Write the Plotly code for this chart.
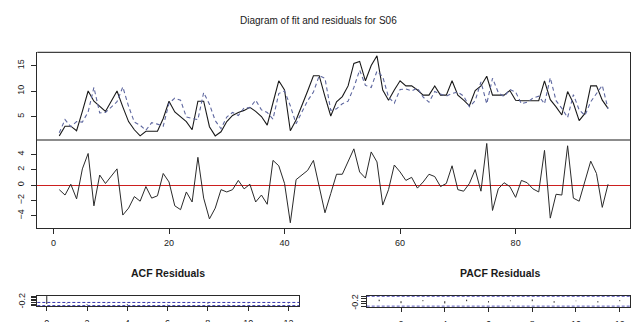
import plotly.graph_objects as go

# ---------------- data ----------------
t = list(range(1, 97))

observed = [1.2, 3.1, 3.1, 2.2, 6.0, 10.0, 8.0, 7.0, 6.0, 8.0,
            10.0, 6.9, 4.0, 2.4, 1.2, 2.1, 2.1, 2.1, 4.6, 8.0,
            5.9, 5.0, 4.0, 2.4, 8.0, 8.0, 3.0, 1.2, 2.0, 4.0,
            5.2, 5.8, 6.2, 6.8, 6.0, 5.0, 3.3, 7.7, 12.0, 10.2,
            2.2, 4.3, 7.0, 10.0, 13.0, 13.0, 8.9, 5.1, 7.9, 8.9,
            11.0, 15.4, 15.8, 12.0, 15.0, 16.9, 10.2, 8.2, 10.2, 12.0,
            11.0, 11.0, 10.2, 9.2, 9.2, 11.0, 9.2, 9.2, 12.0, 9.2,
            8.2, 7.1, 10.1, 11.0, 12.9, 9.2, 9.2, 9.2, 10.1, 8.2,
            8.1, 8.1, 8.1, 8.1, 12.0, 8.3, 6.9, 5.3, 9.9, 7.6,
            4.2, 5.6, 11.0, 11.0, 8.2, 6.6]

fitted = [1.8, 4.4, 3.0, 4.0, 3.9, 5.9, 10.7, 5.7, 5.8, 6.9,
          7.9, 10.8, 7.0, 3.9, 3.3, 2.3, 3.8, 3.5, 3.1, 7.6,
          8.6, 8.2, 4.9, 4.6, 4.4, 9.7, 7.4, 4.2, 2.6, 4.9,
          5.8, 5.2, 6.7, 6.7, 8.2, 6.3, 5.8, 4.5, 9.5, 10.0,
          7.1, 3.6, 5.7, 8.1, 9.8, 13.0, 12.5, 6.2, 6.5, 7.5,
          8.0, 10.7, 14.1, 11.1, 10.7, 13.9, 12.8, 8.8, 7.6, 10.3,
          10.4, 10.0, 10.6, 8.8, 7.8, 9.9, 9.4, 9.0, 9.5, 9.8,
          9.0, 6.9, 8.1, 11.8, 7.5, 12.5, 9.7, 8.9, 10.3, 9.8,
          7.5, 7.8, 8.6, 9.0, 7.5, 12.6, 8.1, 6.6, 4.8, 9.3,
          6.3, 5.2, 7.9, 9.5, 11.1, 6.5]

residuals = [-0.6, -1.3, 0.1, -1.8, 2.1, 4.1, -2.7, 1.3, 0.2, 1.1,
             2.1, -3.9, -3.0, -1.5, -2.1, -0.2, -1.7, -1.4, 1.5, 0.4,
             -2.7, -3.2, -0.9, -2.2, 3.6, -1.7, -4.4, -3.0, -0.6, -0.9,
             -0.6, 0.6, -0.5, 0.1, -2.2, -1.3, -2.5, 3.2, 2.5, 0.2,
             -4.9, 0.7, 1.3, 1.9, 3.2, 0.0, -3.6, -1.1, 1.4, 1.4,
             3.0, 4.7, 1.7, 0.9, 4.3, 3.0, -2.6, -0.6, 2.6, 1.7,
             0.6, 1.0, -0.4, 0.4, 1.4, 1.1, -0.2, 0.2, 2.5, -0.6,
             -0.8, 0.2, 2.0, -0.8, 5.4, -3.3, -0.5, 0.3, -0.2, -1.6,
             0.6, 0.3, -0.5, -0.9, 4.5, -4.3, -1.2, -1.3, 5.1, -1.7,
             -2.1, 0.4, 3.1, 1.5, -2.9, 0.1]

x_ticks = [0, 20, 40, 60, 80]
fit_y_ticks = [5, 10, 15]
res_y_ticks = [-4, -2, 0, 2, 4]

acf_lags = list(range(0, 13))
acf_values = [1.0, 0.06, -0.08, 0.03, -0.09, 0.05, -0.04, 0.02, 0.08, -0.05, 0.03, -0.06, 0.04]
pacf_lags = list(range(1, 13))
pacf_values = [0.06, -0.08, 0.04, -0.09, 0.06, -0.05, 0.03, 0.07, -0.06, 0.02, -0.05, 0.04]
conf_limit = 0.2
acf_y_ticks = [-0.2, 0.0, 0.2, 0.4, 0.6, 0.8, 1.0]
pacf_y_ticks = [-0.2, -0.1, 0.0, 0.1, 0.2]
lag_ticks = [0, 2, 4, 6, 8, 10, 12]

title_text = "Diagram of fit and residuals for S06"

# ---------------- figure ----------------
W, H = 635, 322
FONT = "Liberation Sans, Arial, sans-serif"
TXT = "#1a1a1a"
BOX = "#2a2a2a"


def px_x(p):
    return p / W


def px_y(p):
    return 1 - p / H


def spikes(lags, vals):
    xs, ys = [], []
    for l, v in zip(lags, vals):
        xs += [l, l, None]
        ys += [0, v, None]
    return xs, ys


fig = go.Figure()

fig.add_trace(go.Scatter(x=t, y=observed, mode="lines", xaxis="x", yaxis="y",
                         line=dict(color="#1a1a1a", width=1.1), hoverinfo="skip"))
fig.add_trace(go.Scatter(x=t, y=fitted, mode="lines", xaxis="x", yaxis="y",
                         line=dict(color="#5f68a0", width=1.1, dash="4px,3px"), hoverinfo="skip"))
fig.add_trace(go.Scatter(x=t, y=residuals, mode="lines", xaxis="x2", yaxis="y2",
                         line=dict(color="#2a2a2a", width=1.0), hoverinfo="skip"))

ax, ay = spikes(acf_lags, acf_values)
fig.add_trace(go.Scatter(x=ax, y=ay, mode="lines", xaxis="x3", yaxis="y3",
                         line=dict(color="#222222", width=1), hoverinfo="skip"))
px_, py_ = spikes(pacf_lags, pacf_values)
fig.add_trace(go.Scatter(x=px_, y=py_, mode="lines", xaxis="x4", yaxis="y4",
                         line=dict(color="#222222", width=1), hoverinfo="skip"))

shapes = []
for ref, xr in (("y3", "x3 domain"), ("y4", "x4 domain")):
    for s in (1, -1):
        shapes.append(dict(type="line", xref=xr, yref=ref, x0=0, x1=1,
                           y0=s * conf_limit, y1=s * conf_limit,
                           line=dict(color="#3535b0", width=1, dash="3px,2px")))
# top frame line of the fit panel (black); the panel separator is drawn gray
shapes.append(dict(type="line", xref="x domain", yref="y domain", x0=0, x1=1, y0=1, y1=1,
                   line=dict(color="#111111", width=1)))

main_x_dom = [px_x(37.3), px_x(630)]
main_x_range = [-2.8, 99.8]

common_axis = dict(showgrid=False, zeroline=False, showline=True, mirror=True,
                   linecolor=BOX, linewidth=1, automargin=False,
                   tickfont=dict(family=FONT, size=9, color=TXT),
                   tickcolor=BOX, ticklen=5, ticks="outside", fixedrange=True)

fig.update_layout(
    width=W, height=H, autosize=False,
    margin=dict(l=0, r=0, t=0, b=0),
    paper_bgcolor="white", plot_bgcolor="white",
    showlegend=False,
    shapes=shapes,
    xaxis=dict(common_axis, domain=main_x_dom, range=main_x_range, anchor="y",
               ticks="", showticklabels=False, mirror=False,
               linecolor="#8c8c8c", linewidth=2),
    yaxis=dict(common_axis, domain=[px_y(139.3), px_y(52.3)], range=[0.53, 17.59],
               anchor="x", tickvals=fit_y_ticks, tickangle=-90, ticklabelstandoff=4),
    xaxis2=dict(common_axis, domain=main_x_dom, range=main_x_range, anchor="y2",
                tickvals=x_ticks, mirror=False, ticklabelstandoff=1),
    yaxis2=dict(common_axis, domain=[px_y(228.3), px_y(139.3)], range=[-5.62, 5.94],
                anchor="x2", tickvals=res_y_ticks, tickangle=-90, ticklabelstandoff=4,
                zeroline=True, zerolinecolor="#cc1f1f", zerolinewidth=1),
    xaxis3=dict(common_axis, domain=[px_x(37.3), px_x(299.3)], range=[-0.47, 12.54],
                anchor="y3", tickvals=lag_ticks, ticklen=4, ticklabelstandoff=4),
    yaxis3=dict(common_axis, domain=[px_y(306), px_y(295.7)], range=[-0.248, 1.048],
                anchor="x3", tickvals=acf_y_ticks, showticklabels=False),
    xaxis4=dict(common_axis, domain=[px_x(366.7), px_x(630)], range=[0.43, 12.47],
                anchor="y4", tickvals=lag_ticks, ticklen=4, ticklabelstandoff=4),
    yaxis4=dict(common_axis, domain=[px_y(306.7), px_y(295.7)], range=[-0.22, 0.22],
                anchor="x4", tickvals=pacf_y_ticks, showticklabels=False),
    annotations=[
        dict(text=title_text, x=0.502, y=px_y(20), xref="paper", yref="paper",
             xanchor="center", yanchor="middle",
             showarrow=False, font=dict(family=FONT, size=10, color=TXT)),
        dict(text="<b>ACF Residuals</b>", x=px_x(168.3), y=px_y(273.3), xref="paper",
             yref="paper", xanchor="center", yanchor="middle",
             showarrow=False, font=dict(family=FONT, size=10.5, color=TXT)),
        dict(text="<b>PACF Residuals</b>", x=px_x(499.7), y=px_y(273.3), xref="paper",
             yref="paper", xanchor="center", yanchor="middle",
             showarrow=False, font=dict(family=FONT, size=10.5, color=TXT)),
        dict(text="-0.2", x=px_x(21), y=px_y(300.5), xref="paper", yref="paper",
             xanchor="center", yanchor="middle",
             showarrow=False, textangle=-90, font=dict(family=FONT, size=9, color=TXT)),
        dict(text="-0.2", x=px_x(355), y=px_y(301.7), xref="paper", yref="paper",
             xanchor="center", yanchor="middle",
             showarrow=False, textangle=-90, font=dict(family=FONT, size=9, color=TXT)),
    ],
)

fig.write_html("out.html", config={"displayModeBar": False},
               post_script="document.body.style.margin='0';document.body.style.padding='0';")
